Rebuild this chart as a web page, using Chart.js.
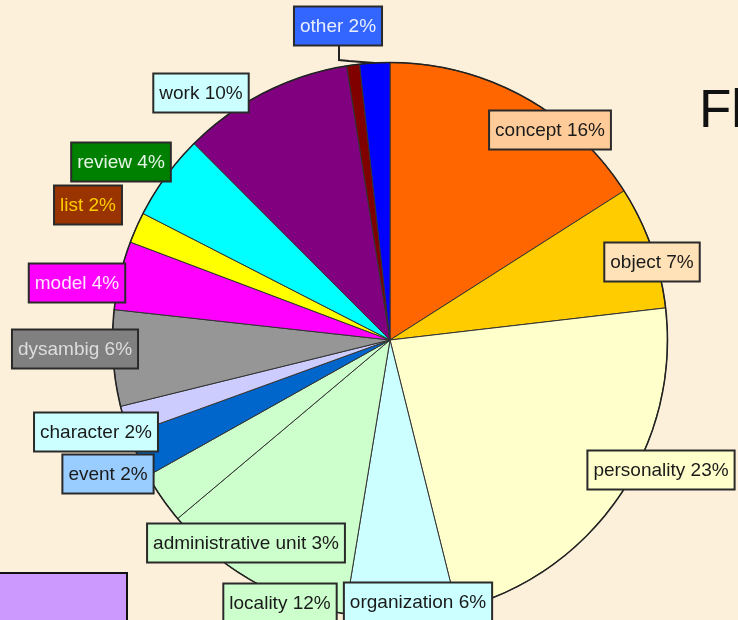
<!DOCTYPE html>
<html>
<head>
<meta charset="utf-8">
<script src="https://cdn.jsdelivr.net/npm/chart.js@4"></script>
<style>
  html, body { margin: 0; padding: 0; background: #fcf0da; }
  canvas { display: block; }
</style>
</head>
<body>
<canvas id="pieChart" width="738" height="620"></canvas>
<script>
// categories, clockwise from 12 o'clock
const categories = [
  'concept', 'object', 'personality', 'organization', 'locality',
  'administrative unit', 'event', 'character', 'dysambig', 'model',
  'list', 'review', 'work', 'unlabeled', 'other'
];
// share of each slice
const shares = [16, 7.2, 23, 6.5, 11.3, 3, 2.6, 1.7, 5.6, 4, 1.8, 5, 10, 0.75, 1.75];
// printed label text
const labelTexts = [
  'concept 16%', 'object 7%', 'personality 23%', 'organization 6%', 'locality 12%',
  'administrative unit 3%', 'event 2%', 'character 2%', 'dysambig 6%', 'model 4%',
  'list 2%', 'review 4%', 'work 10%', null, 'other 2%'
];

const sliceColors = [
  '#ff6600', '#ffcc00', '#ffffcc', '#ccffff', '#ccffcc',
  '#ccffcc', '#0066cc', '#ccccff', '#969696', '#ff00ff',
  '#ffff00', '#00ffff', '#800080', '#800000', '#0000ff'
];

// label box look: [background, text colour, centre x, centre y]
const labelStyle = [
  ['#ffcc99', '#1a1a1a', 550, 130],
  ['#ffe2b8', '#1a1a1a', 652, 262],
  ['#ffffcc', '#1a1a1a', 661, 470],
  ['#ccffff', '#1a1a1a', 418, 602],
  ['#ccffcc', '#1a1a1a', 280, 603],
  ['#ccffcc', '#1a1a1a', 246, 543],
  ['#99ccff', '#1a1a1a', 108, 474],
  ['#ccffff', '#1a1a1a', 96, 432],
  ['#808080', '#dddddd', 75, 349],
  ['#ff00ff', '#ffe6ff', 77, 283],
  ['#993300', '#ffcc00', 88, 205],
  ['#008000', '#e6f5e6', 121, 162],
  ['#ccffff', '#1a1a1a', 201, 93],
  null,
  ['#3366ff', '#e8eeff', 338, 26]
];

const decorations = {
  id: 'decorations',
  beforeDraw(chart) {
    const ctx = chart.ctx;
    ctx.save();
    ctx.fillStyle = '#fcf0da';
    ctx.fillRect(0, 0, chart.width, chart.height);
    ctx.restore();
  },
  afterDatasetsDraw(chart) {
    // darker outer rim like the original
    const a = chart.getDatasetMeta(0).data[0];
    const ctx = chart.ctx;
    ctx.save();
    ctx.strokeStyle = '#222';
    ctx.lineWidth = 1.5;
    ctx.beginPath();
    ctx.arc(a.x, a.y, a.outerRadius, 0, Math.PI * 2);
    ctx.stroke();
    ctx.restore();
  },
  afterDraw(chart) {
    const ctx = chart.ctx;
    ctx.save();

    // leader line for the small "other" slice
    const arcs = chart.getDatasetMeta(0).data;
    const o = arcs[14];
    const mid = (o.startAngle + o.endAngle) / 2;
    const ex = o.x + Math.cos(mid) * o.outerRadius;
    const ey = o.y + Math.sin(mid) * o.outerRadius;
    ctx.strokeStyle = '#222';
    ctx.lineWidth = 2;
    ctx.beginPath();
    ctx.moveTo(339, 46);
    ctx.lineTo(339, 60);
    ctx.lineTo(349, 61);
    ctx.lineTo(ex, ey);
    ctx.stroke();

    // label boxes
    ctx.font = '19px "Liberation Sans", Arial, sans-serif';
    ctx.textBaseline = 'middle';
    ctx.textAlign = 'center';
    labelTexts.forEach((txt, i) => {
      if (!txt) return;
      const [bg, fg, cx, cy] = labelStyle[i];
      const w = ctx.measureText(txt).width + 12;
      const h = 39;
      ctx.fillStyle = bg;
      ctx.fillRect(cx - w / 2, cy - h / 2, w, h);
      ctx.strokeStyle = '#2a2a2a';
      ctx.lineWidth = 2;
      ctx.strokeRect(cx - w / 2, cy - h / 2, w, h);
      ctx.fillStyle = fg;
      ctx.fillText(txt, cx, cy + 1);
    });

    // title fragment at the right edge
    ctx.fillStyle = '#111';
    ctx.font = '53px "Liberation Sans", Arial, sans-serif';
    ctx.textAlign = 'left';
    ctx.textBaseline = 'alphabetic';
    ctx.fillText('Fl', 699, 127);

    // purple box bottom-left
    ctx.fillStyle = '#cc99ff';
    ctx.fillRect(0, 573, 127, 50);
    ctx.strokeStyle = '#111';
    ctx.lineWidth = 2;
    ctx.strokeRect(-2, 573, 129, 50);
    ctx.restore();
  }
};

new Chart(document.getElementById('pieChart'), {
  type: 'pie',
  data: {
    labels: categories,
    datasets: [{
      data: shares,
      backgroundColor: sliceColors,
      borderColor: '#333',
      borderWidth: 1
    }]
  },
  options: {
    responsive: false,
    animation: false,
    layout: { padding: { left: 112, right: 70, top: 62, bottom: 2 } },
    plugins: {
      legend: { display: false },
      tooltip: { enabled: false },
      title: { display: false }
    }
  },
  plugins: [decorations]
});
</script>
</body>
</html>
